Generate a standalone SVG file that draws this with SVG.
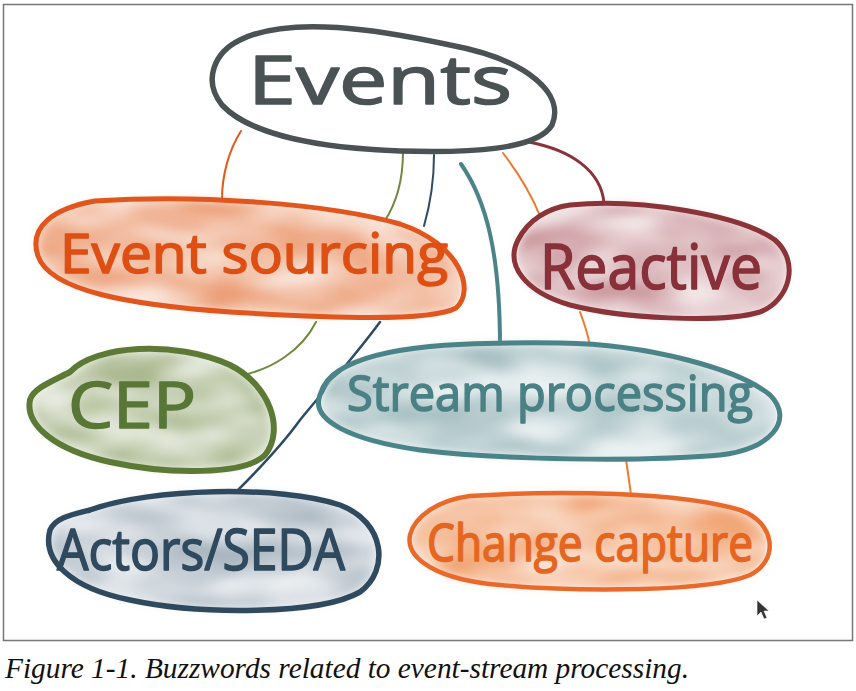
<svg xmlns="http://www.w3.org/2000/svg" width="856" height="691" viewBox="0 0 856 691">
<style>
.hand{font-family:"Open Sans","Noto Sans","DejaVu Sans",sans-serif;font-weight:400;stroke-width:1.6;stroke-linejoin:round;stroke-linecap:round}
.ring{fill:none;stroke-linecap:round;stroke-linejoin:round}
.wash{filter:url(#wash)}
.con{fill:none;stroke-linecap:round}
.cap{font-family:"Liberation Serif","Times New Roman",serif;font-style:italic;font-size:30px;fill:#111}
</style>
<defs>
<filter id="wash" x="-5%" y="-10%" width="110%" height="120%">
<feTurbulence type="fractalNoise" baseFrequency="0.012 0.035" numOctaves="2" seed="7" result="n"/>
<feColorMatrix in="n" type="matrix" values="0 0 0 0 0  0 0 0 0 0  0 0 0 0 0  2.0 0 0 0 -0.45" result="a"/>
<feComposite in="SourceGraphic" in2="a" operator="in" result="c"/>
<feGaussianBlur in="c" stdDeviation="5"/>
</filter>
</defs>
<rect x="0" y="0" width="856" height="691" fill="#fff"/>
<rect x="3.5" y="4.5" width="849" height="636" fill="none" stroke="#777" stroke-width="1.5"/>

<g id="connectors">
<path class="con" d="M241,131 C229,150 222,175 222,199" stroke="#e05a1a" stroke-width="2"/>
<path class="con" d="M403,152 C403,180 396,204 384,222" stroke="#6f8a3d" stroke-width="2"/>
<path class="con" d="M316,322 C302,350 272,370 238,376" stroke="#6f8a3d" stroke-width="2"/>
<path class="con" d="M434,155 C434,182 430,205 424,226" stroke="#2d4a66" stroke-width="2"/>
<path class="con" d="M380,322 C352,360 320,395 300,420 C282,445 258,470 238,490" stroke="#2d4a66" stroke-width="2.5"/>
<path class="con" d="M461,164 C486,200 500,252 500,346" stroke="#4b8488" stroke-width="4"/>
<path class="con" d="M503,153 C519,174 532,196 540,216" stroke="#ec7a30" stroke-width="2"/>
<path class="con" d="M580,312 C585,325 588,335 590,346" stroke="#ec7a30" stroke-width="2"/>
<path class="con" d="M626,459 C628,474 630,485 631,496" stroke="#ec7a30" stroke-width="2"/>
<path class="con" d="M529,142 C570,150 601,170 604,203" stroke="#8a3338" stroke-width="3"/>
</g>

<g id="node-events">
<path d="M240,40 C290,15 380,30 450,45 C530,60 565,95 552,125 C537,150 470,153 400,151 C320,148 250,135 222,105 C202,80 215,52 240,40 Z" fill="#fff"/>
<path class="ring" d="M240,40 C290,15 380,30 450,45 C530,60 565,95 552,125 C537,150 470,153 400,151 C320,148 250,135 222,105 C202,80 215,52 240,40 Z" stroke="#4a5254" stroke-width="5.5"/>
<text class="hand" x="248" y="104" font-size="68" textLength="264" lengthAdjust="spacingAndGlyphs" fill="#4a5254" stroke="#4a5254">Events</text>
</g>

<g id="node-event-sourcing">
<path d="M95,203 C200,196 330,206 400,226 C458,246 472,290 453,306 C428,320 330,316 230,310 C130,303 52,289 40,255 C31,227 56,210 95,203 Z" fill="#fae6dc"/>
<path class="wash" d="M95,203 C200,196 330,206 400,226 C458,246 472,290 453,306 C428,320 330,316 230,310 C130,303 52,289 40,255 C31,227 56,210 95,203 Z" fill="#ec9f78"/>
<path class="ring" d="M95,201 C200,194 330,204 400,224 C460,244 476,290 456,308 C430,322 330,318 230,312 C130,305 50,291 38,256 C28,226 55,208 95,201 Z" stroke="#e0561c" stroke-width="5"/>
<text class="hand" x="60" y="273" font-size="54" textLength="388" lengthAdjust="spacingAndGlyphs" fill="#de4f14" stroke="#de4f14">Event sourcing</text>
</g>

<g id="node-reactive">
<path d="M570,207 C640,200 740,217 773,241 C797,262 787,298 758,310 C720,322 620,316 572,303 C528,291 509,265 521,241 C531,222 549,210 570,207 Z" fill="#f4e9ea"/>
<path class="wash" d="M570,207 C640,200 740,217 773,241 C797,262 787,298 758,310 C720,322 620,316 572,303 C528,291 509,265 521,241 C531,222 549,210 570,207 Z" fill="#c9959a"/>
<path class="ring" d="M570,205 C640,198 740,215 775,240 C800,262 790,300 760,312 C720,324 620,318 570,305 C525,292 505,265 518,240 C528,220 548,208 570,205 Z" stroke="#8a3338" stroke-width="5"/>
<text class="hand" x="540" y="289" font-size="62" textLength="222" lengthAdjust="spacingAndGlyphs" fill="#88313a" stroke="#88313a">Reactive</text>
</g>

<g id="node-cep">
<path d="M72,374 C97,348 175,343 228,367 C267,387 281,430 262,453 C243,472 170,472 111,460 C57,448 28,424 33,401 C36,389 57,382 72,374 Z" fill="#eff2ea"/>
<path class="wash" d="M72,374 C97,348 175,343 228,367 C267,387 281,430 262,453 C243,472 170,472 111,460 C57,448 28,424 33,401 C36,389 57,382 72,374 Z" fill="#a9b88e"/>
<path class="ring" d="M70,372 C95,345 175,340 230,365 C270,385 285,430 265,455 C245,475 170,475 110,462 C55,450 25,425 30,400 C33,388 55,380 70,372 Z" stroke="#5c7a35" stroke-width="6"/>
<text class="hand" x="68" y="428" font-size="64" textLength="128" lengthAdjust="spacingAndGlyphs" fill="#587736" stroke="#587736">CEP</text>
</g>

<g id="node-stream-processing">
<path d="M342,372 C382,347 460,344 560,345 C650,346 738,372 767,396 C791,420 767,448 718,453 C640,460 500,458 420,448 C352,438 313,420 323,396 C326,386 333,378 342,372 Z" fill="#eff4f5"/>
<path class="wash" d="M342,372 C382,347 460,344 560,345 C650,346 738,372 767,396 C791,420 767,448 718,453 C640,460 500,458 420,448 C352,438 313,420 323,396 C326,386 333,378 342,372 Z" fill="#a7c0c3"/>
<path class="ring" d="M340,370 C380,345 460,342 560,343 C650,344 740,370 770,395 C795,420 770,450 720,455 C640,462 500,460 420,450 C350,440 310,420 320,395 C323,385 330,376 340,370 Z" stroke="#4b8488" stroke-width="5"/>
<text class="hand" x="347" y="411" font-size="50" textLength="406" lengthAdjust="spacingAndGlyphs" fill="#4a8185" stroke="#4a8185">Stream processing</text>
</g>

<g id="node-actors-seda">
<path d="M92,512 C152,490 280,487 338,507 C382,524 387,569 358,590 C318,612 200,612 131,598 C72,586 45,559 53,531 C58,519 72,517 92,512 Z" fill="#eff2f4"/>
<path class="wash" d="M92,512 C152,490 280,487 338,507 C382,524 387,569 358,590 C318,612 200,612 131,598 C72,586 45,559 53,531 C58,519 72,517 92,512 Z" fill="#a9b6c0"/>
<path class="ring" d="M90,510 C150,488 280,485 340,505 C385,522 390,570 360,592 C320,615 200,615 130,600 C70,588 42,560 50,530 C55,518 70,515 90,510 Z" stroke="#2f4a5e" stroke-width="5.5"/>
<text class="hand" x="57" y="570" font-size="56" textLength="288" lengthAdjust="spacingAndGlyphs" fill="#2f4a5e" stroke="#2f4a5e">Actors/SEDA</text>
</g>

<g id="node-change-capture">
<path d="M470,498 C560,492 680,494 738,512 C772,524 776,558 748,573 C710,589 580,589 500,583 C442,578 408,559 413,536 C418,517 442,502 470,498 Z" fill="#fce9de"/>
<path class="wash" d="M470,498 C560,492 680,494 738,512 C772,524 776,558 748,573 C710,589 580,589 500,583 C442,578 408,559 413,536 C418,517 442,502 470,498 Z" fill="#f1a676"/>
<path class="ring" d="M470,496 C560,490 680,492 740,510 C775,522 780,560 750,575 C710,592 580,592 500,585 C440,580 405,560 410,535 C415,515 440,500 470,496 Z" stroke="#e8692a" stroke-width="4.5"/>
<text class="hand" x="427" y="561" font-size="52" textLength="326" lengthAdjust="spacingAndGlyphs" fill="#e5661f" stroke="#e5661f">Change capture</text>
</g>

<path d="M757,600 L757,616 L761,612 L764,619 L767,618 L764,611 L769,611 Z" fill="#333" stroke="#fff" stroke-width="0.6"/>

<text class="cap" x="5" y="678" textLength="684" lengthAdjust="spacingAndGlyphs">Figure 1-1. Buzzwords related to event-stream processing.</text>
</svg>
